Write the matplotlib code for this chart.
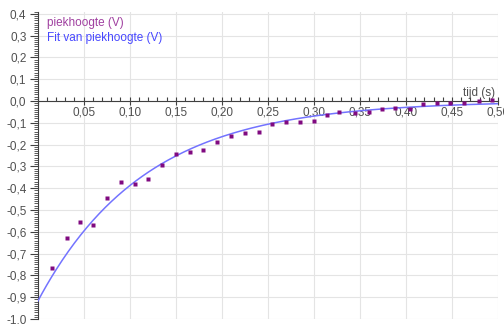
import numpy as np
import matplotlib
matplotlib.use("Agg")
import matplotlib.pyplot as plt
from matplotlib.ticker import MultipleLocator, FuncFormatter

# meetpunten
tijd = [0.0153, 0.0318, 0.0461, 0.0606, 0.0751, 0.0903, 0.1059, 0.1203, 0.1349,
        0.1501, 0.1657, 0.1800, 0.1947, 0.2100, 0.2254, 0.2400, 0.2545, 0.2697,
        0.2850, 0.2997, 0.3142, 0.3276, 0.3450, 0.3595, 0.3740, 0.3885, 0.4040,
        0.4190, 0.4340, 0.4480, 0.4630, 0.4790, 0.4936]
piek = [-0.766, -0.627, -0.554, -0.571, -0.447, -0.373, -0.381, -0.358, -0.292,
        -0.243, -0.235, -0.223, -0.190, -0.161, -0.146, -0.140, -0.105, -0.097,
        -0.098, -0.091, -0.065, -0.052, -0.057, -0.049, -0.038, -0.034, -0.038,
        -0.015, -0.011, -0.011, -0.011, 0.000, 0.005]

# fit: A*exp(-t/tau)
fit_A = -0.92
fit_tau = 0.116

t_fit = np.linspace(0, 0.5, 300)
v_fit = fit_A * np.exp(-t_fit / fit_tau)

plt.rcParams['font.family'] = ['Liberation Sans', 'DejaVu Sans']

fig = plt.figure(figsize=(5.04, 3.24), dpi=100)
# y: 0 at px 101, -1.0 at px 319
ax = fig.add_axes([37.6/504, 1 - 319/324, (498 - 37.6)/504, (319 - 11.6)/324])

ax.plot(t_fit, v_fit, color='#7373ff', lw=1.1, zorder=3)
ax.plot(tijd, piek, ls='none', marker='s', ms=2.3, color='#800a80', mec='none', zorder=4)

ax.set_xlim(0, 0.5)
ax.set_ylim(-1.0, 0.41)

ax.spines['top'].set_visible(False)
ax.spines['right'].set_visible(False)
ax.spines['bottom'].set_position(('data', 0))
ax.spines['bottom'].set_color('#404040')
ax.spines['left'].set_color('#404040')

ax.xaxis.set_major_locator(MultipleLocator(0.05))
ax.xaxis.set_minor_locator(MultipleLocator(0.01))
ax.yaxis.set_major_locator(MultipleLocator(0.1))
ax.yaxis.set_minor_locator(MultipleLocator(0.01))

ax.xaxis.set_major_formatter(FuncFormatter(lambda v, p: '' if abs(v) < 1e-9 else f"{v:.2f}".replace('.', ',')))
ax.yaxis.set_major_formatter(FuncFormatter(lambda v, p: f"{v:.1f}".replace('.', ',').replace('-0,0', '0,0')))

ax.tick_params(axis='x', which='major', direction='inout', length=6, width=0.8, color='#404040',
               labelsize=8.5, labelcolor='#505050', pad=1)
ax.tick_params(axis='x', which='minor', direction='in', length=3, width=0.8, color='#404040')
ax.tick_params(axis='y', which='major', direction='out', length=6, width=0.8, color='#404040',
               labelsize=8.5, labelcolor='#505050', pad=2)
ax.tick_params(axis='y', which='minor', direction='out', length=3, width=0.6, color='#404040')

ax.grid(True, which='major', color='#e4e4e4', lw=0.8)
ax.set_axisbelow(True)

ax.text(0.497, 0.01, 'tijd (s)', ha='right', va='bottom', fontsize=8.5, color='#505050')
ax.text(0.010, 0.36, 'piekhoogte (V)', ha='left', va='center', fontsize=8.5, color='#a040a0')
ax.text(0.010, 0.29, 'Fit van piekhoogte (V)', ha='left', va='center', fontsize=8.5, color='#4848ff')

fig.savefig('out.png', dpi=100)
